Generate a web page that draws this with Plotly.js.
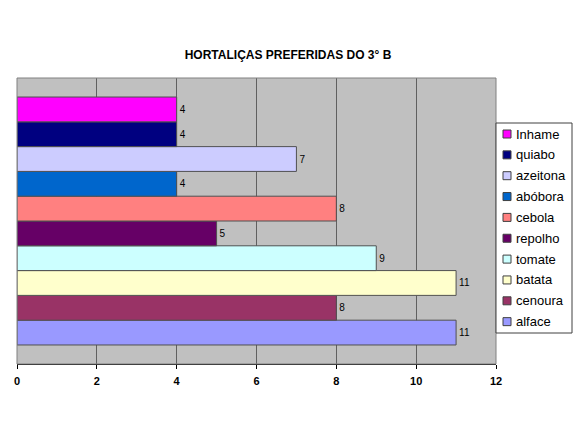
<!DOCTYPE html>
<html>
<head>
<meta charset="utf-8">
<script src="https://cdn.plot.ly/plotly-3.0.1.min.js"></script>
<style>html,body{margin:0;padding:0;background:#fff;}#chart{width:576px;height:432px;}</style>
</head>
<body>
<div id="chart"></div>
<script>
// Data (bottom to top, as in the chart)
const categories = ['alface', 'cenoura', 'batata', 'tomate', 'repolho', 'cebola', 'abóbora', 'azeitona', 'quiabo', 'Inhame'];
const values = [11, 8, 11, 9, 5, 8, 4, 7, 4, 4];
const colors = ['#9999FF', '#993366', '#FFFFCC', '#CCFFFF', '#660066', '#FF8080', '#0066CC', '#CCCCFF', '#000080', '#FF00FF'];
const xTicks = [0, 2, 4, 6, 8, 10, 12];
const titleText = 'HORTALIÇAS PREFERIDAS DO 3° B';

const font = 'Liberation Sans, Arial, sans-serif';
const W = 576, H = 432;
const M = {l: 17, r: 80, t: 78, b: 68};
const PW = W - M.l - M.r, PH = H - M.t - M.b;
const px2x = px => (px - M.l) / PW;
const py2y = py => (H - M.b - py) / PH;

const traces = categories.map((c, i) => ({
  type: 'bar',
  orientation: 'h',
  name: c,
  x: [values[i]],
  y: [0],
  text: [String(values[i])],
  textposition: 'outside',
  cliponaxis: false,
  textfont: {family: font, size: 10, color: '#000'},
  marker: {color: colors[i], line: {color: '#505050', width: 1}},
  hoverinfo: 'name+x'
}));

// Legend (Excel style): box, small squares and labels, Inhame on top
const legBox = {x0: 496, x1: 572, y0: 123, y1: 333};
const legTop = 134, legStep = 20.85;
const shapes = [{
  type: 'rect', xref: 'paper', yref: 'paper', x0: 0, x1: 1, y0: 0, y1: 1,
  line: {color: '#808080', width: 1}, fillcolor: 'rgba(0,0,0,0)', layer: 'above'
}, {
  type: 'rect', xref: 'paper', yref: 'paper',
  x0: px2x(legBox.x0), x1: px2x(legBox.x1), y0: py2y(legBox.y1), y1: py2y(legBox.y0),
  line: {color: '#404040', width: 1}, fillcolor: '#ffffff', layer: 'above'
}];
const annotations = [];
const n = categories.length;
for (let k = 0; k < n; k++) {
  const i = n - 1 - k;
  const cy = legTop + k * legStep;
  shapes.push({
    type: 'rect', xref: 'paper', yref: 'paper',
    x0: px2x(503), x1: px2x(511), y0: py2y(cy + 4), y1: py2y(cy - 4),
    line: {color: '#404040', width: 1}, fillcolor: colors[i], layer: 'above'
  });
  annotations.push({
    xref: 'paper', yref: 'paper', x: px2x(514), y: py2y(cy),
    xanchor: 'left', yanchor: 'middle', showarrow: false,
    text: categories[i],
    font: {family: font, size: 13, color: '#000'}
  });
}

const layout = {
  width: W, height: H,
  margin: {l: M.l, r: M.r, t: M.t, b: M.b, pad: 0},
  paper_bgcolor: '#ffffff',
  plot_bgcolor: '#C0C0C0',
  barmode: 'group',
  bargap: 0.133,
  bargroupgap: 0,
  showlegend: false,
  title: {
    text: '<b>' + titleText + '</b>',
    font: {family: font, size: 12, color: '#000'},
    x: 0.5, xref: 'container', xanchor: 'center',
    y: 1 - 55 / H, yref: 'container', yanchor: 'middle'
  },
  xaxis: {
    range: [0, 12],
    tickvals: xTicks,
    ticktext: xTicks.map(String),
    showgrid: true, gridcolor: '#606060', gridwidth: 1,
    zeroline: false,
    showline: true, linecolor: '#000', linewidth: 1,
    ticks: 'outside', ticklen: 4, tickcolor: '#000', tickwidth: 1,
    ticklabelstandoff: 3,
    tickfont: {family: font, size: 11, color: '#000', weight: 'bold'},
    fixedrange: true
  },
  yaxis: {
    range: [-0.5, 0.5],
    showticklabels: false, ticks: '', showgrid: false, zeroline: false,
    showline: false,
    fixedrange: true
  },
  shapes: shapes,
  annotations: annotations
};

Plotly.newPlot('chart', traces, layout, {displayModeBar: false, staticPlot: true});
</script>
</body>
</html>
